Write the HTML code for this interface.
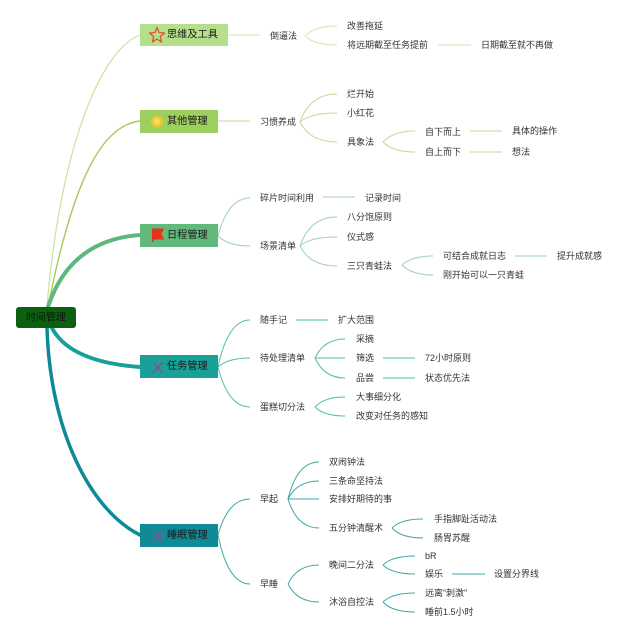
<!DOCTYPE html>
<html><head><meta charset="utf-8"><style>
html,body{margin:0;padding:0;background:#fff;}
svg{display:block;}
text{font-family:"Liberation Sans","Noto Sans CJK SC",sans-serif;fill:#333;}
.c{font-size:9px;dominant-baseline:central;}
.b{font-size:10.2px;dominant-baseline:central;fill:#1a1a1a;}
</style></head><body>
<svg width="640" height="637" viewBox="0 0 640 637" xmlns="http://www.w3.org/2000/svg">
<rect width="640" height="637" fill="#ffffff"/>
<!-- root connectors -->
<g fill="none" stroke-linecap="round">
<path d="M47,307 C60,150 100,50 140,35" stroke="#c8e39c" stroke-width="1.2"/>
<path d="M48,307 C75,170 105,125 140,121" stroke="#a9c95c" stroke-width="1.4"/>
<path d="M48,307 Q70,240 140,235" stroke="#5fb87b" stroke-width="4"/>
<path d="M52,328 Q70,362 140,367" stroke="#18a098" stroke-width="4"/>
<path d="M47,328 C50,430 90,510 140,535" stroke="#0e8a96" stroke-width="3.5"/>
</g>
<!-- branch 1 children -->
<g fill="none" stroke="#d2e6b0" stroke-width="1">
<path d="M228,35 L260,35"/>
<path d="M305,36 Q314,26 337,26"/>
<path d="M305,36 Q314,45 337,45"/>
<path d="M438,45 L471,45"/>
</g>
<!-- branch 2 children -->
<g fill="none" stroke="#c2da94" stroke-width="1">
<path d="M218,121 L250,121"/>
<path d="M300,122 Q310,94 337,94"/>
<path d="M300,122 Q310,113 337,113"/>
<path d="M300,122 Q310,142 337,142"/>
<path d="M383,142 Q393,131 415,131"/>
<path d="M383,142 Q393,152 415,152"/>
<path d="M470,131 L502,131"/>
<path d="M470,152 L502,152"/>
</g>
<!-- branch 3 children -->
<g fill="none" stroke="#9fd0b6" stroke-width="1">
<path d="M218,236 Q228,198 250,198"/>
<path d="M218,236 Q228,246 250,246"/>
<path d="M323,197 L355,197"/>
<path d="M300,246 Q310,217 337,217"/>
<path d="M300,246 Q310,237 337,237"/>
<path d="M300,246 Q310,266 337,266"/>
<path d="M402,265 Q412,256 433,256"/>
<path d="M402,265 Q412,275 433,275"/>
<path d="M515,256 L547,256"/>
</g>
<!-- branch 4 children -->
<g fill="none" stroke="#4dbfa7" stroke-width="1">
<path d="M218,367 Q228,320 250,320"/>
<path d="M218,367 Q228,358 250,358"/>
<path d="M218,367 Q228,407 250,407"/>
<path d="M296,320 L328,320"/>
<path d="M315,358 Q324,339 345,339"/>
<path d="M315,358 L345,358"/>
<path d="M315,358 Q324,378 345,378"/>
<path d="M383,358 L415,358"/>
<path d="M383,378 L415,378"/>
<path d="M315,407 Q324,397 345,397"/>
<path d="M315,407 Q324,416 345,416"/>
</g>
<!-- branch 5 children -->
<g fill="none" stroke="#42a7a8" stroke-width="1">
<path d="M218,535 Q228,499 250,499"/>
<path d="M218,535 Q228,584 250,584"/>
<path d="M288,499 Q297,462 319,462"/>
<path d="M288,499 Q297,481 319,481"/>
<path d="M288,499 L319,499"/>
<path d="M288,499 Q297,528 319,528"/>
<path d="M392,528 Q401,519 423,519"/>
<path d="M392,528 Q401,538 423,538"/>
<path d="M288,584 Q297,565 319,565"/>
<path d="M288,584 Q297,602 319,602"/>
<path d="M383,565 Q392,556 415,556"/>
<path d="M383,565 Q392,574 415,574"/>
<path d="M452,574 L485,574"/>
<path d="M383,602 Q392,593 415,593"/>
<path d="M383,602 Q392,612 415,612"/>
</g>
<!-- root -->
<rect x="16" y="307" width="60" height="21" rx="3" fill="#0c6010"/>
<text x="46" y="318" class="b" text-anchor="middle" style="font-size:10px;fill:#0a1a0a">时间管理</text>
<!-- branch boxes -->
<rect x="140" y="24" width="88" height="22" fill="#b6df8c"/>
<rect x="140" y="110" width="78" height="23" fill="#9dcf5f"/>
<rect x="140" y="224" width="78" height="23" fill="#61b97c"/>
<rect x="140" y="355" width="78" height="23" fill="#19a099"/>
<rect x="140" y="524" width="78" height="23" fill="#0f8b98"/>
<!-- icons -->
<polygon points="157,27.5 159,32.5 164.5,33 160.3,36.5 161.6,42 157,39 152.4,42 153.7,36.5 149.5,33 155,32.5" fill="none" stroke="#e0522a" stroke-width="1.3" stroke-linejoin="round"/>
<circle cx="157" cy="121.5" r="6" fill="#f2c92a" opacity="0.85"/>
<circle cx="157" cy="121.5" r="3.2" fill="#f8dc6a"/>
<path d="M152,228.5 L164,228.5 L161.5,234 L164,239.5 L153.5,239.5 L153.5,242 L152,242 Z" fill="#e8321e"/>
<g stroke="#8a4f8c" stroke-width="1.6" stroke-linecap="round">
<line x1="153" y1="373" x2="162" y2="363"/><line x1="154" y1="363" x2="162" y2="372"/>
<line x1="153" y1="542" x2="162" y2="532"/><line x1="154" y1="532" x2="162" y2="541"/>
</g>
<!-- branch labels -->
<text x="167" y="35" class="b">思维及工具</text>
<text x="167" y="121.5" class="b">其他管理</text>
<text x="167" y="235.5" class="b">日程管理</text>
<text x="167" y="366.5" class="b">任务管理</text>
<text x="167" y="535.5" class="b">睡眠管理</text>
<!-- child labels -->
<g class="c">
<text x="270" y="36" class="c">倒逼法</text>
<text x="347" y="26" class="c">改善拖延</text>
<text x="347" y="45" class="c">将远期截至任务提前</text>
<text x="481" y="45" class="c">日期截至就不再做</text>

<text x="260" y="122" class="c">习惯养成</text>
<text x="347" y="94" class="c">烂开始</text>
<text x="347" y="113" class="c">小红花</text>
<text x="347" y="142" class="c">具象法</text>
<text x="425" y="132" class="c">自下而上</text>
<text x="425" y="152" class="c">自上而下</text>
<text x="512" y="131" class="c">具体的操作</text>
<text x="512" y="152" class="c">想法</text>

<text x="260" y="198" class="c">碎片时间利用</text>
<text x="365" y="198" class="c">记录时间</text>
<text x="260" y="246" class="c">场景清单</text>
<text x="347" y="217" class="c">八分饱原则</text>
<text x="347" y="237" class="c">仪式感</text>
<text x="347" y="266" class="c">三只青蛙法</text>
<text x="443" y="256" class="c">可结合成就日志</text>
<text x="443" y="275" class="c">刚开始可以一只青蛙</text>
<text x="557" y="256" class="c">提升成就感</text>

<text x="260" y="320" class="c">随手记</text>
<text x="338" y="320" class="c">扩大范围</text>
<text x="260" y="358" class="c">待处理清单</text>
<text x="356" y="339" class="c">采摘</text>
<text x="356" y="358" class="c">筛选</text>
<text x="356" y="378" class="c">品尝</text>
<text x="425" y="358" class="c">72小时原则</text>
<text x="425" y="378" class="c">状态优先法</text>
<text x="260" y="407" class="c">蛋糕切分法</text>
<text x="356" y="397" class="c">大事细分化</text>
<text x="356" y="416" class="c">改变对任务的感知</text>

<text x="260" y="499" class="c">早起</text>
<text x="329" y="462" class="c">双闹钟法</text>
<text x="329" y="481" class="c">三条命坚持法</text>
<text x="329" y="499" class="c">安排好期待的事</text>
<text x="329" y="528" class="c">五分钟清醒术</text>
<text x="434" y="519" class="c">手指脚趾活动法</text>
<text x="434" y="538" class="c">肠胃苏醒</text>
<text x="260" y="584" class="c">早睡</text>
<text x="329" y="565" class="c">晚间二分法</text>
<text x="329" y="602" class="c">沐浴自控法</text>
<text x="425" y="556" class="c">bR</text>
<text x="425" y="574" class="c">娱乐</text>
<text x="494" y="574" class="c">设置分界线</text>
<text x="425" y="593" class="c">远离“刺激”</text>
<text x="425" y="612" class="c">睡前1.5小时</text>
</g>
</svg>
</body></html>
